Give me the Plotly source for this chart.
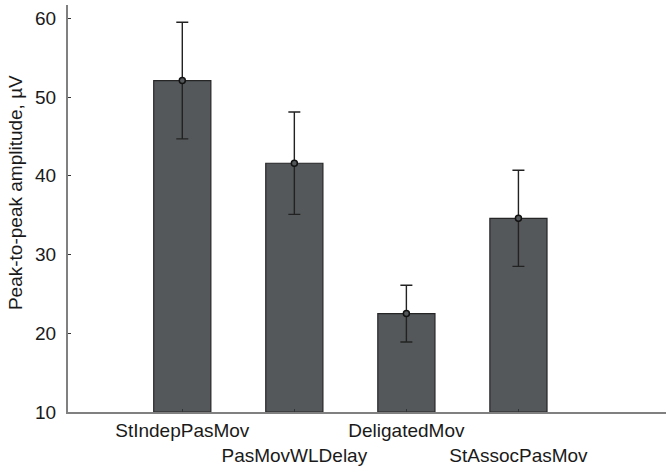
import plotly.graph_objects as go

# Condition names, mean peak-to-peak amplitudes and their error half-widths
categories = ["StIndepPasMov", "PasMovWLDelay", "DeligatedMov", "StAssocPasMov"]
means = [52.1, 41.6, 22.5, 34.6]
errors = [7.4, 6.5, 3.6, 6.1]

y_ticks = [10, 20, 30, 40, 50, 60]
y_title = "Peak-to-peak amplitude, µV"

positions = list(range(len(categories)))
# Alternate labels drop to a second line so the long names do not collide
tick_text = [name if i % 2 == 0 else "<br>" + name for i, name in enumerate(categories)]

font_family = "Liberation Sans, Arial, sans-serif"

fig = go.Figure()
fig.add_trace(go.Bar(
    x=positions,
    y=[m - 10 for m in means],
    base=10,
    width=0.51,
    marker=dict(color="#55585b", line=dict(color="#262626", width=1.2)),
    hoverinfo="skip",
    showlegend=False,
))
fig.add_trace(go.Scatter(
    x=positions,
    y=means,
    mode="markers",
    marker=dict(symbol="circle", size=6, color="#55585b",
                line=dict(color="#111111", width=1.5)),
    error_y=dict(type="data", array=errors, visible=True,
                 color="#222222", thickness=1.4, width=6),
    showlegend=False,
))

fig.update_layout(
    width=666,
    height=467,
    margin=dict(l=68, r=0, t=5, b=55),
    paper_bgcolor="white",
    plot_bgcolor="white",
    font=dict(family=font_family, size=19, color="#1a1a1a"),
    xaxis=dict(
        range=[-1.02, 4.317],
        tickmode="array",
        tickvals=positions,
        ticktext=tick_text,
        tickangle=0,
        automargin=False,
        ticks="inside",
        ticklen=3,
        tickcolor="#333333",
        showline=True,
        linecolor="#808080",
        linewidth=2,
        showgrid=False,
        zeroline=False,
        tickfont=dict(size=19),
    ),
    yaxis=dict(
        range=[10, 61.7],
        tickmode="array",
        tickvals=y_ticks,
        automargin=False,
        ticks="inside",
        ticklen=3,
        tickcolor="#333333",
        showline=True,
        linecolor="#808080",
        linewidth=2,
        showgrid=False,
        zeroline=False,
        tickfont=dict(size=19),
        ticklabelstandoff=6,
    ),
    annotations=[dict(
        text=y_title,
        textangle=-90,
        xref="paper", yref="paper",
        x=-0.0886, y=0.538,
        xanchor="center", yanchor="middle",
        showarrow=False,
        font=dict(size=19, color="#1a1a1a"),
    )],
)

fig.write_html("out.html")
